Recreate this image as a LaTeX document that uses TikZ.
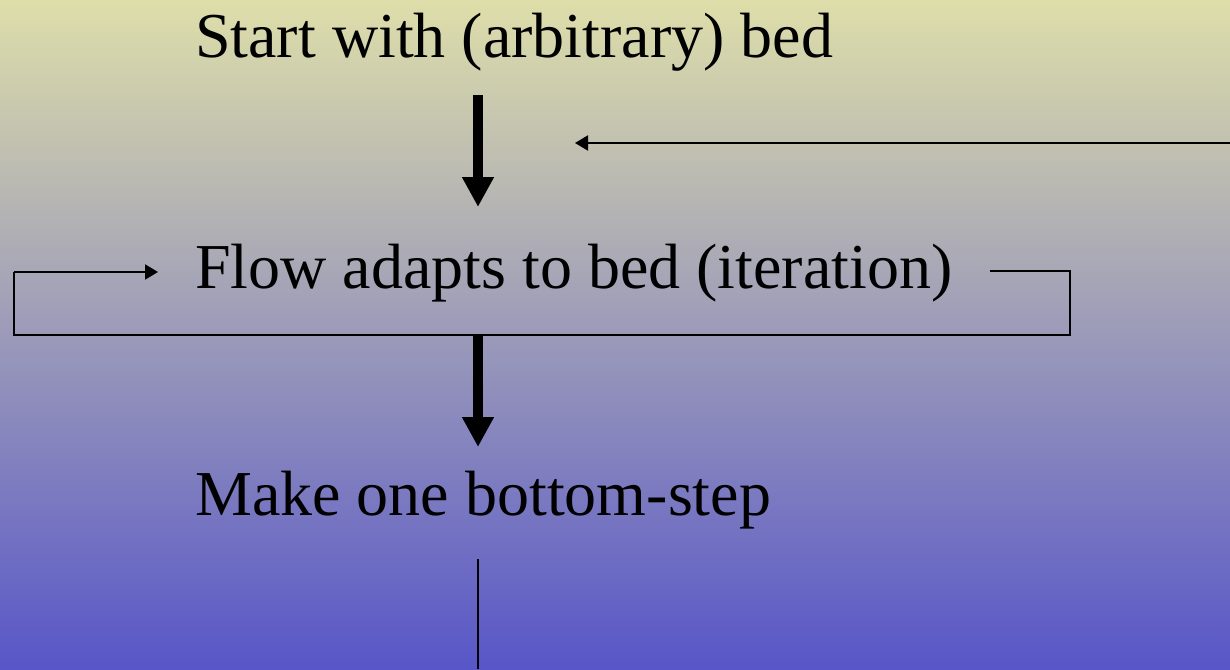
\documentclass[tikz,border=0pt]{standalone}
\usepackage{fontspec}
\newfontfamily\stepfont{LiberationSerif}[Extension=.ttf, UprightFont=*-Regular]
\usetikzlibrary{arrows.meta}

\definecolor{bgtop}{RGB}{222,222,170}
\definecolor{bgmid}{RGB}{160,158,190}
\definecolor{bgbot}{RGB}{88,86,200}

\tikzset{
  label text/.style={anchor=base west, inner sep=0pt, font=\stepfont\fontsize{64}{76}\selectfont},
  thick arrow/.style={line width=10pt, -{Triangle[width=30pt,length=30pt]}},
  thin arrow/.style={line width=2pt, -{Triangle[width=15pt,length=13pt]}},
  thin line/.style={line width=2pt},
}

\begin{document}
\begin{tikzpicture}[x=1pt, y=-1pt]
  % background
  \useasboundingbox (0,0) rectangle (1230,669);
  \shade[top color=bgtop, middle color=bgmid, bottom color=bgbot] (0,0) rectangle (1230,669);

  % steps
  \node[label text] (start) at (195,57) {Start with (arbitrary) bed};
  \node[label text] (flow)  at (195,288) {Flow adapts to bed (iteration)};
  \node[label text] (make)  at (195,515) {Make one bottom-step};

  % connector end points
  \coordinate (a1s) at (478,95);
  \coordinate (a1e) at (478,207);
  \coordinate (a2s) at (478,335);
  \coordinate (a2e) at (478,447);
  \coordinate (ret) at (1230,143);
  \coordinate (retend) at (575,143);
  \coordinate (loopin) at (158,272);
  \coordinate (loopout) at (990,271);
  \coordinate (down) at (478,559);
  \coordinate (downend) at (478,669);

  % main flow
  \draw[thick arrow] (a1s) -- (a1e);
  \draw[thick arrow] (a2s) -- (a2e);

  % return from the right edge
  \draw[thin arrow] (ret) -- (retend);

  % iteration loop around the flow step
  \draw[thin line, line join=miter] (loopout) -- (1070,271) -- (1070,335) -- (14,335) -- (14,272);
  \draw[thin arrow] (14,272) -- (loopin);

  % continuation below
  \draw[thin line] (down) -- (downend);
\end{tikzpicture}
\end{document}
